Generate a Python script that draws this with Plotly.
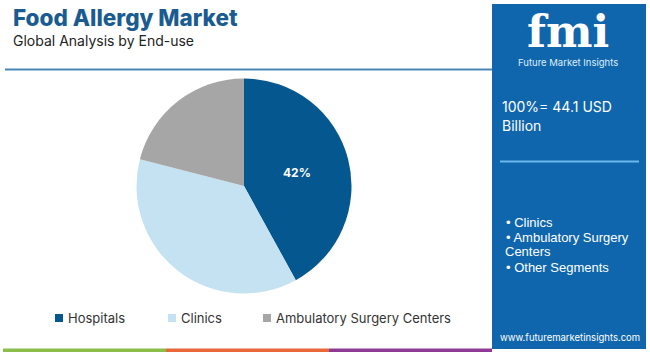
import plotly.graph_objects as go

W, H = 650, 352

labels = ["Hospitals", "Clinics", "Ambulatory Surgery Centers"]
values = [42, 37, 21]
colors = ["#04578f", "#c5e2f3", "#a6a6a6"]
slice_text = ["42%", "", ""]

title = "Food Allergy Market"
subtitle = "Global Analysis by End-use"
total_text = ["100%= 44.1 USD", "Billion"]
bullets = ["• Clinics", "• Ambulatory Surgery", "Centers", "• Other Segments"]
url = "www.futuremarketinsights.com"
bottom_colors = ["#8bbd4a", "#e8683a", "#8e3b96"]


def px(x):
    return x / W


def py(y):
    return 1 - y / H


fig = go.Figure()

cx, cy, r = 244, 186, 107.5
fig.add_trace(go.Pie(
    labels=labels,
    values=values,
    marker=dict(colors=colors, line=dict(width=0)),
    sort=False,
    direction="clockwise",
    rotation=0,
    texttemplate=slice_text,
    textposition="inside",
    insidetextfont=dict(family="Inter, Open Sans, sans-serif", size=12, color="white", weight="bold"),
    hoverinfo="label+percent",
    showlegend=False,
    domain=dict(x=[px(cx - r), px(cx + r)], y=[py(cy + r), py(cy - r)]),
))

shapes = []
annotations = []

# header line
shapes.append(dict(type="line", xref="paper", yref="paper",
                   x0=px(5), x1=px(492), y0=py(69.5), y1=py(69.5),
                   line=dict(color="#4a86b5", width=2)))

# right panel
shapes.append(dict(type="rect", xref="paper", yref="paper",
                   x0=px(492), x1=px(646), y0=py(349), y1=py(4),
                   fillcolor="#0f66ac", line=dict(width=0), layer="below"))
shapes.append(dict(type="line", xref="paper", yref="paper",
                   x0=px(500), x1=px(639), y0=py(161.5), y1=py(161.5),
                   line=dict(color="#6bb8ea", width=2)))

# bottom colored bars
bx = [3, 166, 329, 492]
for i, c in enumerate(bottom_colors):
    shapes.append(dict(type="rect", xref="paper", yref="paper",
                       x0=px(bx[i]), x1=px(bx[i + 1]), y0=py(352), y1=py(348.5),
                       fillcolor=c, line=dict(width=0)))

# titles
annotations.append(dict(text=title, x=px(11), y=py(17), xref="paper", yref="paper",
                        xanchor="left", yanchor="middle", showarrow=False,
                        font=dict(family="Inter, Open Sans, sans-serif", size=22.5, color="#1a5c91", weight=800)))
annotations.append(dict(text=subtitle, x=px(11), y=py(40), xref="paper", yref="paper",
                        xanchor="left", yanchor="middle", showarrow=False,
                        font=dict(family="Inter, Open Sans, sans-serif", size=14, color="#222222")))

# legend
leg_x = [55, 168, 263]
for i, lab in enumerate(labels):
    shapes.append(dict(type="rect", xref="paper", yref="paper",
                       x0=px(leg_x[i]), x1=px(leg_x[i] + 8), y0=py(322), y1=py(314),
                       fillcolor=colors[i], line=dict(width=0)))
    annotations.append(dict(text=lab, x=px(leg_x[i] + 11), y=py(318), xref="paper", yref="paper",
                            xanchor="left", yanchor="middle", showarrow=False,
                            font=dict(family="Inter, Open Sans, sans-serif", size=13, color="#333333")))

# logo
annotations.append(dict(text="fmi", x=px(568), y=py(31), xref="paper", yref="paper",
                        xanchor="center", yanchor="middle", showarrow=False,
                        font=dict(family="DejaVu Serif, serif", size=44, color="white", weight="bold")))
annotations.append(dict(text="Future Market Insights", x=px(568), y=py(62), xref="paper", yref="paper",
                        xanchor="center", yanchor="middle", showarrow=False,
                        font=dict(family="Inter, Open Sans, sans-serif", size=9.5, color="#dfeefa")))

# total
for i, t in enumerate(total_text):
    annotations.append(dict(text=t, x=px(500), y=py(106 + 20 * i), xref="paper", yref="paper",
                            xanchor="left", yanchor="middle", showarrow=False,
                            font=dict(family="Inter, Open Sans, sans-serif", size=14, color="white")))

# bullets
by = [222, 237, 251.5, 267]
for i, t in enumerate(bullets):
    annotations.append(dict(text=t, x=px(504 if i != 2 else 503), y=py(by[i]), xref="paper", yref="paper",
                            xanchor="left", yanchor="middle", showarrow=False,
                            font=dict(family="Liberation Sans Narrow, Liberation Sans, sans-serif", size=13, color="white")))

annotations.append(dict(text=url, x=px(570), y=py(337), xref="paper", yref="paper",
                        xanchor="center", yanchor="middle", showarrow=False,
                        font=dict(family="Inter, Open Sans, sans-serif", size=9.5, color="white")))

fig.update_layout(
    width=W, height=H,
    margin=dict(l=0, r=0, t=0, b=0),
    paper_bgcolor="white",
    plot_bgcolor="white",
    shapes=shapes,
    annotations=annotations,
)

fig.write_html("out.html")
